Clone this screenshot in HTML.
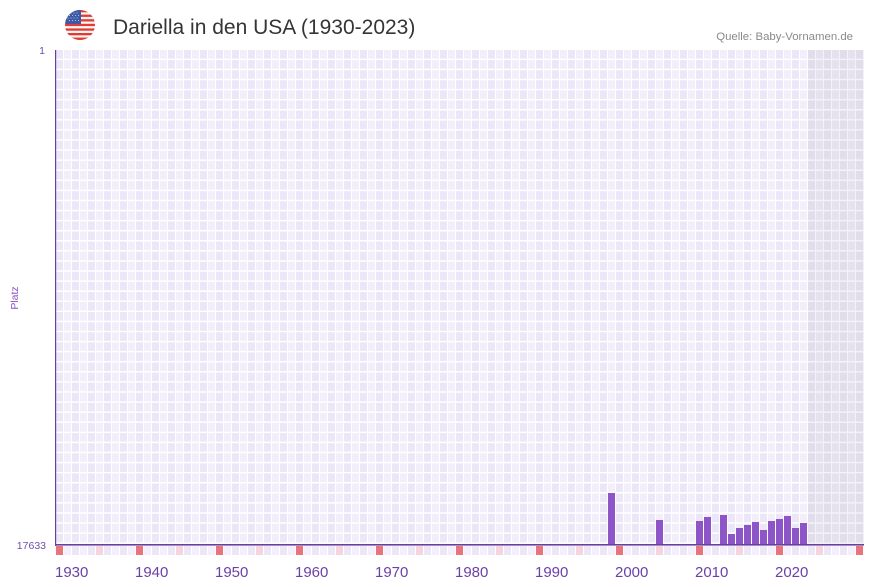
<!DOCTYPE html>
<html>
<head>
<meta charset="utf-8">
<style>
  html, body { margin:0; padding:0; background:#ffffff; }
  body { width:873px; height:587px; overflow:hidden; position:relative; font-family:"Liberation Sans", sans-serif; }
  svg { position:absolute; left:0; top:0; }
</style>
</head>
<body>
<svg width="873" height="587" viewBox="0 0 873 587" xmlns="http://www.w3.org/2000/svg">
  <defs>
    <pattern id="grid" x="56" y="50" width="16" height="10.08" patternUnits="userSpaceOnUse">
      <rect x="0" y="0" width="16" height="10.08" fill="#ffffff"/>
      <rect x="0" y="0" width="7" height="8.6" fill="#ece7f8"/>
      <rect x="8" y="0" width="7" height="8.6" fill="#f2effb"/>
    </pattern>
    <pattern id="gridS" x="56" y="50" width="16" height="10.08" patternUnits="userSpaceOnUse">
      <rect x="0" y="0" width="16" height="10.08" fill="#f4f2f8"/>
      <rect x="0" y="0" width="7" height="8.6" fill="#e1ddeb"/>
      <rect x="8" y="0" width="7" height="8.6" fill="#e5e2ee"/>
    </pattern>
    <pattern id="strip" x="56" y="546" width="16" height="9" patternUnits="userSpaceOnUse">
      <rect x="0" y="0" width="16" height="9" fill="#ffffff"/>
      <rect x="0" y="0" width="7" height="9" fill="#ece7f8"/>
      <rect x="8" y="0" width="7" height="9" fill="#f3f0fb"/>
    </pattern>
    <clipPath id="fc"><circle cx="80" cy="25" r="15"/></clipPath>
  </defs>

  <!-- flag -->
  <g clip-path="url(#fc)">
    <rect x="65" y="10" width="30" height="30" fill="#f5f5f5"/>
    <rect x="65" y="10" width="30" height="2.3" fill="#e23b33"/>
    <rect x="65" y="14.6" width="30" height="2.3" fill="#e23b33"/>
    <rect x="65" y="19.2" width="30" height="2.3" fill="#e23b33"/>
    <rect x="65" y="23.8" width="30" height="2.3" fill="#e23b33"/>
    <rect x="65" y="28.4" width="30" height="2.3" fill="#e23b33"/>
    <rect x="65" y="33" width="30" height="2.3" fill="#e23b33"/>
    <rect x="65" y="37.6" width="30" height="2.4" fill="#e23b33"/>
    <rect x="65" y="10" width="16" height="14" fill="#3d5aa8"/>
    <g fill="#ffffff" opacity="0.85">
      <circle cx="68" cy="13" r="0.5"/><circle cx="71" cy="13" r="0.5"/><circle cx="74" cy="13" r="0.5"/><circle cx="77" cy="13" r="0.5"/>
      <circle cx="69.5" cy="15.5" r="0.5"/><circle cx="72.5" cy="15.5" r="0.5"/><circle cx="75.5" cy="15.5" r="0.5"/><circle cx="78.5" cy="15.5" r="0.5"/>
      <circle cx="68" cy="18" r="0.5"/><circle cx="71" cy="18" r="0.5"/><circle cx="74" cy="18" r="0.5"/><circle cx="77" cy="18" r="0.5"/>
      <circle cx="69.5" cy="20.5" r="0.5"/><circle cx="72.5" cy="20.5" r="0.5"/><circle cx="75.5" cy="20.5" r="0.5"/><circle cx="78.5" cy="20.5" r="0.5"/>
    </g>
  </g>

  <!-- title -->
  <text x="113" y="34" font-family="Liberation Sans, sans-serif" font-size="21" fill="#353535">Dariella in den USA (1930-2023)</text>
  <text x="853" y="40" text-anchor="end" font-family="Liberation Sans, sans-serif" font-size="11.4" fill="#8a8a8a">Quelle: Baby-Vornamen.de</text>

  <!-- grid -->
  <rect x="56" y="50" width="808" height="494" fill="url(#grid)"/>
  <rect x="808" y="50" width="56" height="494" fill="url(#gridS)"/>

  <!-- bottom strip -->
  <rect x="56" y="546" width="808" height="9" fill="url(#strip)"/>
  <g fill="#e8747c">
    <rect x="56" y="546" width="7" height="9"/>
    <rect x="136" y="546" width="7" height="9"/>
    <rect x="216" y="546" width="7" height="9"/>
    <rect x="296" y="546" width="7" height="9"/>
    <rect x="376" y="546" width="7" height="9"/>
    <rect x="456" y="546" width="7" height="9"/>
    <rect x="536" y="546" width="7" height="9"/>
    <rect x="616" y="546" width="7" height="9"/>
    <rect x="696" y="546" width="7" height="9"/>
    <rect x="776" y="546" width="7" height="9"/>
    <rect x="856" y="546" width="7" height="9"/>
  </g>
  <g fill="#f5d6de">
    <rect x="96" y="546" width="7" height="9"/>
    <rect x="176" y="546" width="7" height="9"/>
    <rect x="256" y="546" width="7" height="9"/>
    <rect x="336" y="546" width="7" height="9"/>
    <rect x="416" y="546" width="7" height="9"/>
    <rect x="496" y="546" width="7" height="9"/>
    <rect x="576" y="546" width="7" height="9"/>
    <rect x="656" y="546" width="7" height="9"/>
    <rect x="736" y="546" width="7" height="9"/>
    <rect x="816" y="546" width="7" height="9"/>
  </g>

  <!-- bars -->
  <g fill="#8e55c8">
    <rect x="608" y="493" width="7" height="52"/>
    <rect x="656" y="520" width="7" height="25"/>
    <rect x="696" y="521" width="7" height="24"/>
    <rect x="704" y="517" width="7" height="28"/>
    <rect x="720" y="515" width="7" height="30"/>
    <rect x="728" y="534" width="7" height="11"/>
    <rect x="736" y="528" width="7" height="17"/>
    <rect x="744" y="525" width="7" height="20"/>
    <rect x="752" y="522" width="7" height="23"/>
    <rect x="760" y="530" width="7" height="15"/>
    <rect x="768" y="521" width="7" height="24"/>
    <rect x="776" y="519" width="7" height="26"/>
    <rect x="784" y="516" width="7" height="29"/>
    <rect x="792" y="528" width="7" height="17"/>
    <rect x="800" y="523" width="7" height="22"/>
  </g>

  <!-- axes -->
  <rect x="55" y="50" width="1.2" height="496" fill="#6b3fa0"/>
  <rect x="55" y="544" width="809" height="1.6" fill="#6b3fa0"/>

  <!-- y labels -->
  <text x="45" y="54" text-anchor="end" font-family="Liberation Sans, sans-serif" font-size="10.5" fill="#6f4fa6">1</text>
  <text x="46" y="549" text-anchor="end" font-family="Liberation Sans, sans-serif" font-size="10.5" fill="#6f4fa6">17633</text>
  <text transform="translate(18,298) rotate(-90)" text-anchor="middle" font-family="Liberation Sans, sans-serif" font-size="10.5" fill="#8a52c2">Platz</text>

  <!-- x labels -->
  <g font-family="Liberation Sans, sans-serif" font-size="15" fill="#6c40a8">
    <text x="55" y="577">1930</text>
    <text x="135" y="577">1940</text>
    <text x="215" y="577">1950</text>
    <text x="295" y="577">1960</text>
    <text x="375" y="577">1970</text>
    <text x="455" y="577">1980</text>
    <text x="535" y="577">1990</text>
    <text x="615" y="577">2000</text>
    <text x="695" y="577">2010</text>
    <text x="775" y="577">2020</text>
  </g>
</svg>
</body>
</html>
